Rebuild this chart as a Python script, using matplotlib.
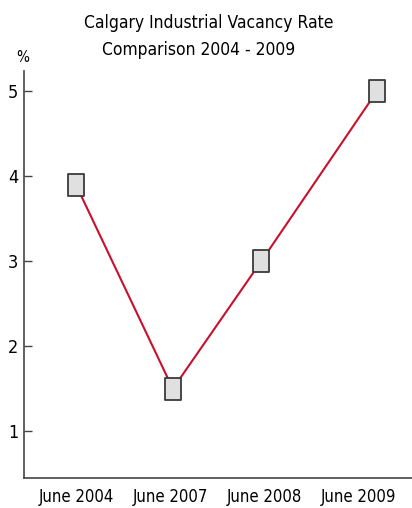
import matplotlib.pyplot as plt
import numpy as np
from matplotlib.path import Path

periods = ["June 2004", "June 2007", "June 2008", "June 2009"]
vacancy = [3.9, 1.5, 3.0, 5.0]
yticks = [1, 2, 3, 4, 5]

plt.rcParams['font.family'] = ['DejaVu Sans']
plt.rcParams['font.stretch'] = 'condensed'

# tall box marker
box = Path([(-0.37, -0.5), (0.37, -0.5), (0.37, 0.5), (-0.37, 0.5), (-0.37, -0.5)],
           [Path.MOVETO, Path.LINETO, Path.LINETO, Path.LINETO, Path.CLOSEPOLY])

fig = plt.figure(figsize=(4.12, 5.08), dpi=100)
ax = fig.add_axes([24 / 412, 30 / 508, 388 / 412, 407 / 508])

xs = np.arange(len(periods))
mark_x = xs + np.array([0, 0.03, -0.03, 0.2])
ax.plot(mark_x, vacancy, color='#c8102e', lw=1.5, marker=box, ms=16.5,
        mfc='#e0e0e0', mec='#3a3a3a', mew=1.3, zorder=3, clip_on=False)

ax.set_xlim(-0.553, 3.574)
ax.set_ylim(0.45, 5.24)
ax.set_xticks(xs)
ax.set_xticklabels(periods, fontsize=12)
ax.set_yticks(yticks)
ax.set_yticklabels([str(v) for v in yticks], fontsize=13)
ax.tick_params(axis='x', length=0, pad=7)
ax.tick_params(axis='y', direction='in', length=6, width=1, pad=4, color='#444444')

for side in ['top', 'right']:
    ax.spines[side].set_visible(False)
for side in ['left', 'bottom']:
    ax.spines[side].set_color('#444444')
    ax.spines[side].set_linewidth(1.2)

fig.text(209 / 412, 1 - 23 / 508, "Calgary Industrial Vacancy Rate",
         ha='center', va='center', fontsize=12.5)
fig.text(199 / 412, 1 - 50 / 508, "Comparison 2004 - 2009",
         ha='center', va='center', fontsize=12.5)
fig.text(23 / 412, 1 - 57 / 508, "%", ha='center', va='center', fontsize=11)

fig.savefig('out.png', dpi=100)
